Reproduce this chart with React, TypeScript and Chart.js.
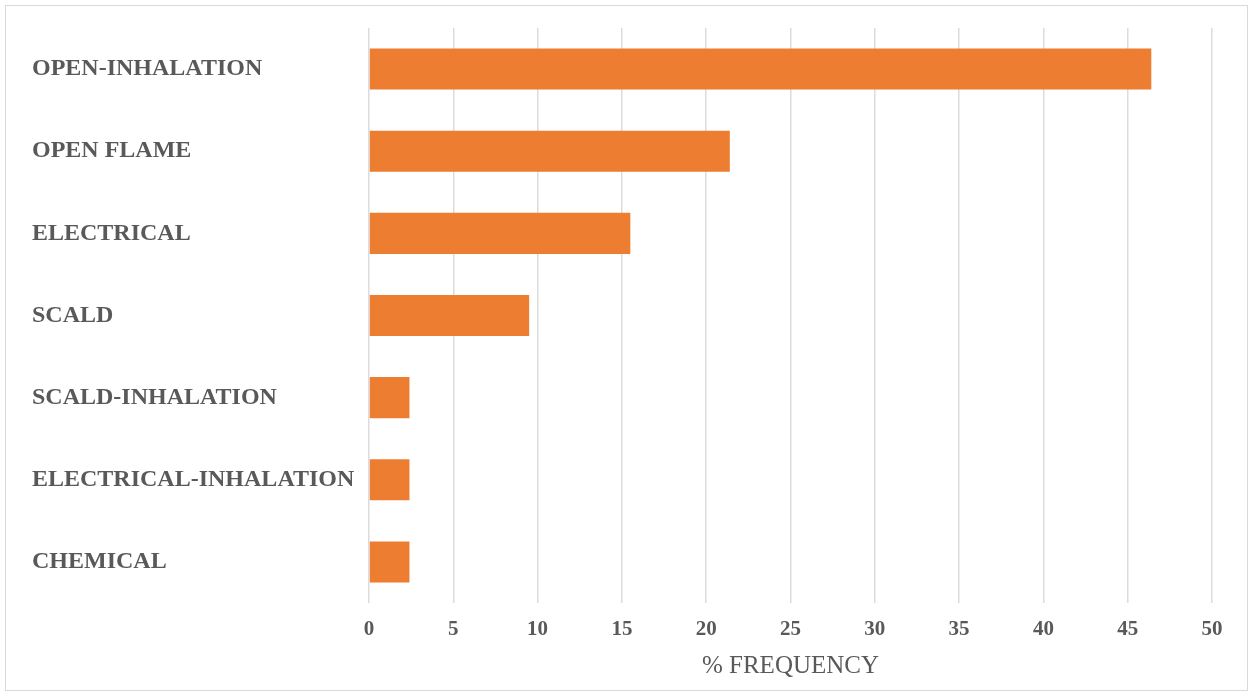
import React, { useEffect, useRef } from "react";
import { Chart, registerables } from "chart.js";

Chart.register(...registerables);

const categories = [
  "OPEN-INHALATION",
  "OPEN FLAME",
  "ELECTRICAL",
  "SCALD",
  "SCALD-INHALATION",
  "ELECTRICAL-INHALATION",
  "CHEMICAL",
];
const frequency = [46.4, 21.4, 15.5, 9.5, 2.4, 2.4, 2.4];
const xTicks = [0, 5, 10, 15, 20, 25, 30, 35, 40, 45, 50];
const xTitle = "% FREQUENCY";

const TEXT = "#595959";
const FONT = "'Liberation Serif', 'Times New Roman', serif";

export default function App() {
  const ref = useRef<HTMLCanvasElement | null>(null);

  useEffect(() => {
    if (!ref.current) return;
    const chart = new Chart(ref.current, {
      type: "bar",
      data: {
        labels: categories,
        datasets: [
          {
            data: frequency,
            backgroundColor: "#ED7D31",
            borderWidth: 0,
            barPercentage: 0.5,
            categoryPercentage: 1,
          },
        ],
      },
      options: {
        indexAxis: "y",
        responsive: false,
        animation: false,
        devicePixelRatio: 1,
        layout: { padding: { left: 32, top: 28, right: 41, bottom: 15 } },
        plugins: { legend: { display: false }, tooltip: { enabled: false } },
        scales: {
          x: {
            min: 0,
            max: 50,
            afterBuildTicks: (s: any) => {
              s.ticks = xTicks.map((v) => ({ value: v }));
            },
            afterFit: (s: any) => {
              s.height = 78;
            },
            grid: { color: "#dcdcdc", lineWidth: 1.5, drawTicks: false },
            border: { display: false },
            ticks: {
              color: TEXT,
              padding: 14,
              font: { family: FONT, size: 21, weight: "bold" },
            },
            title: {
              display: true,
              text: xTitle,
              color: TEXT,
              padding: { top: 0, bottom: 0 },
              font: { family: FONT, size: 25, weight: "normal" },
            },
          },
          y: {
            afterFit: (s: any) => {
              s.width = 369 - 32;
            },
            grid: { display: false },
            border: { display: false },
            ticks: {
              color: TEXT,
              crossAlign: "far",
              font: { family: FONT, size: 24, weight: "bold" },
            },
          },
        },
      },
    } as any);
    return () => chart.destroy();
  }, []);

  return (
    <div style={{ position: "fixed", left: 0, top: 0, width: 1253, height: 696, background: "#fff" }}>
      <div
        style={{
          position: "absolute",
          left: 5,
          top: 5,
          width: 1241,
          height: 684,
          border: "1px solid #d9d9d9",
        }}
      />
      <canvas ref={ref} width={1253} height={696} style={{ position: "absolute", left: 0, top: 0 }} />
    </div>
  );
}
